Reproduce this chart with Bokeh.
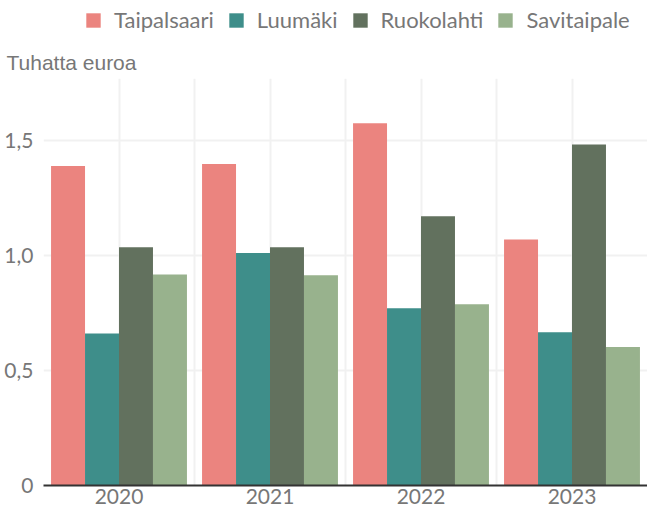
from bokeh.plotting import figure
from bokeh.models import (ColumnDataSource, Range1d, FixedTicker, Legend, LegendItem,
                          Title, CustomJSTickFormatter, Grid)
from bokeh.transform import dodge
from bokeh.layouts import column
from bokeh.embed import file_html
from bokeh.resources import INLINE

years = ["2020", "2021", "2022", "2023"]
series = ["Taipalsaari", "Luumäki", "Ruokolahti", "Savitaipale"]
taipalsaari = [1.39, 1.398, 1.575, 1.07]
luumaki = [0.661, 1.011, 0.771, 0.666]
ruokolahti = [1.036, 1.036, 1.171, 1.483]
savitaipale = [0.918, 0.914, 0.788, 0.602]
colors = ["#EB847F", "#3E8E8A", "#62715E", "#98B28D"]
y_ticks = [0, 0.5, 1.0, 1.5]

src = ColumnDataSource(dict(
    x=list(range(len(years))),
    Taipalsaari=taipalsaari,
    Luumaki=luumaki,
    Ruokolahti=ruokolahti,
    Savitaipale=savitaipale,
))
cols = ["Taipalsaari", "Luumaki", "Ruokolahti", "Savitaipale"]

W = 647
LEG_H = 40
bw = 0.225
offsets = [-1.5 * bw, -0.5 * bw, 0.5 * bw, 1.5 * bw]

# ---- legend strip (own small figure; its bars lie outside its visible range) ----
leg = figure(width=W, height=LEG_H, output_backend="svg", toolbar_location=None,
             x_range=Range1d(-0.5, len(years) - 0.5), y_range=Range1d(10, 11),
             x_axis_type=None, y_axis_type=None, min_border=0)
leg.outline_line_color = None
leg.xgrid.visible = False
leg.ygrid.visible = False
leg_items = []
for col, name, c, off in zip(cols, series, colors, offsets):
    r = leg.vbar(x=dodge("x", off), top=col, width=bw, source=src,
                 fill_color=c, line_color=None)
    leg_items.append(LegendItem(label=name, renderers=[r]))
legend = Legend(items=leg_items, orientation="horizontal", location=(41, 7),
                border_line_color=None, background_fill_alpha=0,
                label_text_font="Lato", label_text_font_size="22px",
                label_text_color="#777777", glyph_width=18, glyph_height=18,
                label_standoff=12, spacing=13, padding=0, margin=0)
leg.add_layout(legend, "center")

# ---- main chart ----
p = figure(width=W, height=506 - LEG_H, output_backend="svg", toolbar_location=None,
           x_range=Range1d(-0.5, len(years) - 0.5), y_range=Range1d(0, 1.77),
           min_border_left=43, min_border_right=0, min_border_top=38, min_border_bottom=0)
p.outline_line_color = None
p.background_fill_color = "white"

for col, c, off in zip(cols, colors, offsets):
    p.vbar(x=dodge("x", off), top=col, width=bw, source=src,
           fill_color=c, line_color=None)

# grids (behind bars)
p.xgrid.visible = False
p.ygrid.visible = False
xg = Grid(dimension=0, ticker=FixedTicker(ticks=[i * 0.5 - 0.5 for i in range(2 * len(years) + 1)]),
          grid_line_color="#F1F1F1", grid_line_width=2, level="underlay")
yg = Grid(dimension=1, ticker=FixedTicker(ticks=y_ticks[1:]),
          grid_line_color="#F1F1F1", grid_line_width=2, level="underlay")
p.add_layout(xg, "center")
p.add_layout(yg, "center")

# axes
p.xaxis.ticker = FixedTicker(ticks=list(range(len(years))))
p.xaxis.formatter = CustomJSTickFormatter(args=dict(labels=years),
                                          code="return labels[Math.round(tick)];")
p.xaxis.axis_line_color = "#333333"
p.xaxis.axis_line_width = 2
p.xaxis.major_tick_line_color = None
p.xaxis.minor_tick_line_color = None
p.xaxis.major_tick_out = 0
p.xaxis.major_label_text_font = "Lato"
p.xaxis.major_label_text_font_size = "21px"
p.xaxis.major_label_text_color = "#777777"
p.xaxis.major_label_standoff = 3

p.yaxis.ticker = FixedTicker(ticks=y_ticks)
p.yaxis.formatter = CustomJSTickFormatter(
    code="return tick == 0 ? '0' : tick.toFixed(1).replace('.', ',');")
p.yaxis.axis_line_color = None
p.yaxis.major_tick_line_color = None
p.yaxis.minor_tick_line_color = None
p.yaxis.major_tick_out = 0
p.yaxis.major_label_text_font = "Lato"
p.yaxis.major_label_text_font_size = "21px"
p.yaxis.major_label_text_color = "#777777"
p.yaxis.major_label_standoff = 10

# title (y-axis unit)
t = Title(text="Tuhatta euroa", align="left", offset=-37,
          text_font="Liberation Sans", text_font_size="21px",
          text_font_style="normal", text_color="#777777", standoff=10)
p.add_layout(t, "above")

layout = column(leg, p, spacing=0)
open("out.html", "w").write(file_html(layout, INLINE))
